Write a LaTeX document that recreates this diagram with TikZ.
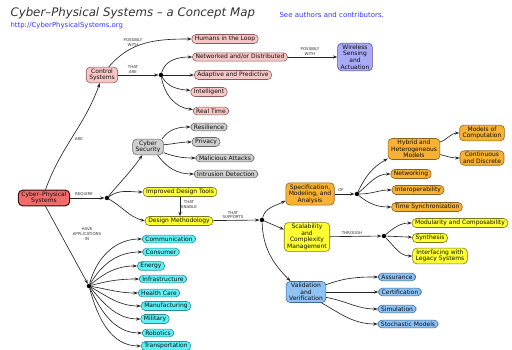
\documentclass[tikz,border=0pt]{standalone}
\usepackage{fontspec}
\setmainfont{DejaVu Sans}
\usepackage{xcolor}
\usepackage{tikz}
\usetikzlibrary{arrows.meta}

\definecolor{cpsred}{HTML}{F26B6B}
\definecolor{cpsredline}{HTML}{3A1010}
\definecolor{ctrlpink}{HTML}{F7C6C6}
\definecolor{ctrlpinkline}{HTML}{8C5A5A}
\definecolor{secgray}{HTML}{CFCFCF}
\definecolor{secgrayline}{HTML}{666666}
\definecolor{dsyellow}{HTML}{FFFF33}
\definecolor{dsyellowline}{HTML}{7A7A20}
\definecolor{modorange}{HTML}{F7B134}
\definecolor{modorangeline}{HTML}{8A6420}
\definecolor{appcyan}{HTML}{5EF2F7}
\definecolor{appcyanline}{HTML}{2A8A95}
\definecolor{vvblue}{HTML}{8EC3F5}
\definecolor{vvblueline}{HTML}{3D6A99}
\definecolor{wslilac}{HTML}{AAAAF7}
\definecolor{wslilacline}{HTML}{50509A}
\definecolor{weblink}{HTML}{3333FF}

\newcommand{\cmapfont}{\fontsize{6}{6.6}\selectfont}
\newcommand{\cmlinkfont}{\fontsize{4}{4.6}\selectfont}

\tikzset{
	concept/.style={draw, rounded corners=4pt, align=center, font=\cmapfont,
		text=black!95, inner xsep=3pt, inner ysep=1.6pt, line width=0.6pt},
	cpsbox/.style={concept, fill=cpsred, draw=cpsredline, line width=1pt},
	ctrlbox/.style={concept, fill=ctrlpink, draw=ctrlpinkline},
	secbox/.style={concept, fill=secgray, draw=secgrayline},
	dsbox/.style={concept, fill=dsyellow, draw=dsyellowline},
	modbox/.style={concept, fill=modorange, draw=modorangeline},
	appbox/.style={concept, fill=appcyan, draw=appcyanline},
	vvbox/.style={concept, fill=vvblue, draw=vvblueline},
	wsbox/.style={concept, fill=wslilac, draw=wslilacline},
	junction/.style={circle, fill=black, inner sep=0pt, minimum size=4.5pt},
	lbl/.style={font=\cmlinkfont, align=center, text=black!80, inner sep=0pt},
	link/.style={->, draw=black!85, line width=0.65pt}
}

\begin{document}
\begin{tikzpicture}[x=1pt, y=-1pt,
				>={Stealth[length=4.5pt,width=3.2pt]}]
				\useasboundingbox (0,0) rectangle (512,350);
				% heading
				\node[anchor=west, font=\fontsize{11.8}{13}\selectfont\itshape, text=black!80] at (7,13) (title) {Cyber–Physical Systems – a Concept Map};
				\node[anchor=west, font=\fontsize{6.9}{7.5}\selectfont, text=weblink] at (7,26) (url) {http://CyberPhysicalSystems.org};
				\node[anchor=west, font=\fontsize{7}{7.5}\selectfont, text=weblink] at (276,15) (credits) {See authors and contributors.};
				% concepts
				\node[cpsbox] at (44,198) (cps) {Cyber–Physical\\Systems};
				\node[ctrlbox] at (102,75) (ctrl) {Control\\Systems};
				\node[ctrlbox] at (225,39) (humans) {Humans in the Loop};
				\node[ctrlbox] at (240,57) (netdist) {Networked and/or Distributed};
				\node[ctrlbox] at (233,75) (adapt) {Adaptive and Predictive};
				\node[ctrlbox] at (209,92) (intell) {Intelligent};
				\node[ctrlbox] at (211,111) (realtime) {Real Time};
				\node[wsbox] at (355,57) (wireless) {Wireless\\Sensing\\and\\Actuation};
				\node[secbox] at (148,147) (security) {Cyber\\Security};
				\node[secbox] at (209,127) (resil) {Resilience};
				\node[secbox] at (206,142) (privacy) {Privacy};
				\node[secbox] at (225,158) (malic) {Malicious Attacks};
				\node[secbox] at (226,174) (intrus) {Intrusion Detection};
				\node[dsbox] at (180,192) (tools) {Improved Design Tools};
				\node[dsbox] at (179,221) (method) {Design Methodology};
				\node[modbox] at (310,194) (spec) {Specification,\\Modeling, and\\Analysis};
				\node[modbox] at (414,149) (hybrid) {Hybrid and\\Heterogeneous\\Models};
				\node[modbox] at (482,133) (moc) {Models of\\Computation};
				\node[modbox] at (482,158) (contdis) {Continuous\\and Discrete};
				\node[modbox] at (411,174) (netw) {Networking};
				\node[modbox] at (418,190) (interop) {Interoperability};
				\node[modbox] at (427,207) (tsync) {Time Synchronization};
				\node[dsbox] at (307,237) (scal) {Scalability\\and\\Complexity\\Management};
				\node[dsbox] at (460,223) (modular) {Modularity and Composability};
				\node[dsbox] at (430,238) (synth) {Synthesis};
				\node[dsbox] at (440,256) (legacy) {Interfacing with\\Legacy Systems};
				\node[vvbox] at (306,292) (valid) {Validation\\and\\Verification};
				\node[vvbox] at (397,277) (assur) {Assurance};
				\node[vvbox] at (400,292) (certif) {Certification};
				\node[vvbox] at (397,309) (simul) {Simulation};
				\node[vvbox] at (408,324) (stoch) {Stochastic Models};
				\node[appbox] at (169,239) (comm) {Communication};
				\node[appbox] at (161,252) (consum) {Consumer};
				\node[appbox] at (151,266) (energy) {Energy};
				\node[appbox] at (163,279) (infra) {Infrastructure};
				\node[appbox] at (159,293) (health) {Health Care};
				\node[appbox] at (166,306) (manuf) {Manufacturing};
				\node[appbox] at (155,319) (military) {Military};
				\node[appbox] at (158,333) (robot) {Robotics};
				\node[appbox] at (166,346) (transp) {Transportation};
				% junctions
				\node[junction] at (161,75) (ctrldot) {};
				\node[junction] at (107,198) (reqdot) {};
				\node[junction] at (262,220) (supdot) {};
				\node[junction] at (357,194) (ofdot) {};
				\node[junction] at (384,236) (thrdot) {};
				\node[junction] at (89,286) (appdot) {};
				% linking phrases
				\node[lbl] at (133,42.5) (lblposs) {POSSIBLY\\WITH};
				\node[lbl] at (133,69.5) (lblare) {THAT\\ARE};
				\node[lbl] at (310,51.5) (lblwith) {POSSIBLY\\WITH};
				\node[lbl] at (79,139) (lblcps) {ARE};
				\node[lbl] at (84,194.5) (lblreq) {REQUIRE};
				\node[lbl] at (189,204.5) (lblenable) {THAT\\ENABLE};
				\node[lbl] at (233,215) (lblsup) {THAT\\SUPPORTS};
				\node[lbl] at (87,234) (lblapp) {HAVE\\APPLICATIONS\\IN};
				\node[lbl] at (341,190.5) (lblof) {OF};
				\node[lbl] at (352,233) (lblthr) {THROUGH};
				% links
				\draw[link] (cps.80) to[out=70,in=-110] (ctrl.-105);
				\draw[link] (ctrl.50) to[out=50,in=180] (humans);
				\draw[link] (ctrl) -- (ctrldot);
				\draw[link] (ctrldot) to[out=75,in=180] (netdist);
				\draw[link] (ctrldot) -- (adapt);
				\draw[link] (ctrldot) to[out=-60,in=175] (intell);
				\draw[link] (ctrldot) to[out=-80,in=175] (realtime);
				\draw[link] (netdist) -- (wireless);
				\draw[link] (cps) -- (reqdot);
				\draw[link] (reqdot) to[out=50,in=-125] (security.-125);
				\draw[link] (reqdot) to[out=35,in=180] (tools);
				\draw[link] (reqdot) to[out=-30,in=165] (method.west);
				\draw[link] (security.30) to[out=55,in=180] (resil);
				\draw[link] (security.8) to[out=5,in=180] (privacy);
				\draw[link] (security.-20) to[out=-20,in=180] (malic);
				\draw[link] (security.-40) to[out=-55,in=180] (intrus);
				\draw[link] (tools.south) -- (tools.south |- method.north);
				\draw[link] (method) -- (supdot);
				\draw[link] (supdot) to[out=75,in=-150] (spec.-165);
				\draw[link] (supdot) -- (scal.162);
				\draw[link] (supdot) to[out=-88,in=135] (valid.145);
				\draw[link] (spec) -- (ofdot);
				\draw[link] (ofdot) to[out=65,in=-150] (hybrid.-160);
				\draw[link] (ofdot) to[out=40,in=180] (netw);
				\draw[link] (ofdot) to[out=0,in=180] (interop);
				\draw[link] (ofdot) to[out=-40,in=180] (tsync);
				\draw[link] (hybrid.15) to[out=20,in=180] (moc);
				\draw[link] (hybrid.-12) to[out=-15,in=180] (contdis);
				\draw[link] (scal) -- (thrdot);
				\draw[link] (thrdot) to[out=40,in=180] (modular);
				\draw[link] (thrdot) -- (synth);
				\draw[link] (thrdot) to[out=-45,in=180] (legacy);
				\draw[link] (valid.20) to[out=20,in=180] (assur);
				\draw[link] (valid) -- (certif);
				\draw[link] (valid.-15) to[out=-10,in=180] (simul);
				\draw[link] (valid.-35) to[out=-30,in=180] (stoch);
				\draw[link] (cps.-80) -- (appdot);
				\draw[link] (appdot) to[out=75,in=180] (comm);
				\draw[link] (appdot) to[out=60,in=180] (consum);
				\draw[link] (appdot) to[out=40,in=180] (energy);
				\draw[link] (appdot) to[out=15,in=180] (infra);
				\draw[link] (appdot) to[out=-10,in=180] (health);
				\draw[link] (appdot) to[out=-30,in=180] (manuf);
				\draw[link] (appdot) to[out=-50,in=180] (military);
				\draw[link] (appdot) to[out=-65,in=180] (robot);
				\draw[link] (appdot) to[out=-75,in=180] (transp);
			\end{tikzpicture}
\end{document}
